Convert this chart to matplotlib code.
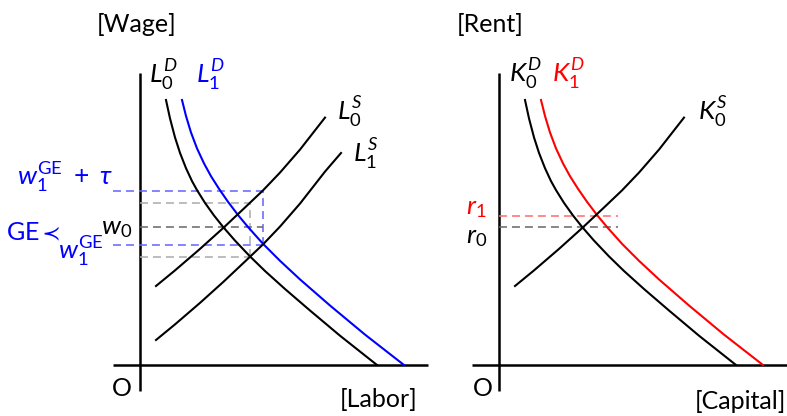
import matplotlib
matplotlib.use("Agg")
import matplotlib.pyplot as plt

plt.rcParams['font.family'] = ['Lato', 'DejaVu Sans']
plt.rcParams['mathtext.fontset'] = 'custom'
plt.rcParams['mathtext.rm'] = 'Lato'
plt.rcParams['mathtext.it'] = 'Lato:italic'
plt.rcParams['mathtext.bf'] = 'Lato:bold'
plt.rcParams['mathtext.sf'] = 'Lato'
plt.rcParams['mathtext.fallback'] = 'stixsans'

# labor market curves
labor_demand0_x = [2.6, 3.0, 3.5, 4.0, 4.6, 5.2, 5.7, 6.5, 7.4, 8.3, 9.5, 11.0, 12.5, 14.5, 17.0, 20.0, 23.7]
labor_demand0_y = [26.5, 24.66, 22.76, 21.21, 19.68, 18.39, 17.49, 16.21, 14.95, 13.82, 12.44,
                   10.86, 9.4, 7.6, 5.45, 2.93, 0.0]
labor_demand1_x = [4.2, 4.6, 5.1, 5.7, 6.4, 7.1, 7.9, 8.8, 9.8, 10.8, 12.3, 14.0, 16.0, 19.0, 22.5, 26.4]
labor_demand1_y = [26.5, 24.9, 23.25, 21.66, 20.16, 18.88, 17.62, 16.32, 15.0, 13.8, 12.12,
                   10.42, 8.56, 5.95, 3.04, 0.0]
labor_supply0_x = [1.6, 3.5, 6.0, 8.3, 10.5, 12.3, 14.0, 16.0, 18.5]
labor_supply0_y = [7.9, 9.46, 11.61, 13.68, 15.75, 17.46, 19.24, 21.54, 24.74]
labor_supply1_x = [1.6, 3.5, 6.0, 8.3, 10.5, 12.3, 14.0, 16.0, 18.5, 20.1]
labor_supply1_y = [2.5, 4.06, 6.21, 8.28, 10.35, 12.06, 13.84, 16.14, 19.34, 21.2]

# equilibrium levels in the labor market
w0 = 13.8
w1_ge = 12.0
w1_ge_tau = 17.4
L_ge = 12.3
w_pe_low = 10.8
w_pe_high = 16.2
L_pe = 11.0

# capital market curves (same shapes as in the labor panel)
capital_demand0_x = labor_demand0_x
capital_demand0_y = labor_demand0_y
capital_demand1_x = labor_demand1_x
capital_demand1_y = labor_demand1_y
capital_supply0_x = labor_supply0_x
capital_supply0_y = labor_supply0_y

r0 = 13.8
r1 = 14.9
r_line_end = 11.9

BLUE = '#0000ff'
RED = '#ff0000'
BLUE_D = '#6262ff'
RED_D = '#ff6a6a'
GRAY_L = '#aaaaaa'
GRAY_D = '#666666'
FS = 18
FM = 19
dash = dict(lw=1.1, dashes=(5.2, 3.3))

fig = plt.figure(figsize=(7.87, 4.16), dpi=100)
axL = fig.add_axes([100/787, 16/416, 330/787, 340/416])
axR = fig.add_axes([460/787, 16/416, 327/787, 340/416])
axL.set_xlim(-4, 29)
axL.set_ylim(-3.5, 30.5)
axR.set_xlim(-3.9, 28.8)
axR.set_ylim(-3.5, 30.5)
for ax in (axL, axR):
    ax.axis('off')
    ax.plot([-2.7, 28.8], [0, 0], color='black', lw=1.8, solid_capstyle='butt')
    ax.plot([0, 0], [-2.6, 29.2], color='black', lw=1.8, solid_capstyle='butt')

# ---- labor panel ----
axL.plot([-2.7, L_ge], [w1_ge_tau, w1_ge_tau], color=BLUE_D, **dash)
axL.plot([-2.7, L_ge], [w1_ge, w1_ge], color=BLUE_D, **dash)
axL.plot([L_ge, L_ge], [w1_ge, w1_ge_tau], color=BLUE_D, **dash)
axL.plot([0, L_pe], [w_pe_high, w_pe_high], color=GRAY_L, **dash)
axL.plot([0, L_pe], [w_pe_low, w_pe_low], color=GRAY_L, **dash)
axL.plot([L_pe, L_pe], [w_pe_low, w_pe_high], color=GRAY_L, **dash)
axL.plot([0, L_ge], [w0, w0], color=GRAY_D, **dash)

axL.plot(labor_demand0_x, labor_demand0_y, color='black', lw=1.5)
axL.plot(labor_demand1_x, labor_demand1_y, color=BLUE, lw=1.5)
axL.plot(labor_supply0_x, labor_supply0_y, color='black', lw=1.5)
axL.plot(labor_supply1_x, labor_supply1_y, color='black', lw=1.5)

axL.text(-0.3, 33.3, '[Wage]', fontsize=FS, ha='center', va='baseline')
axL.text(27.8, -4.2, '[Labor]', fontsize=FS, ha='right', va='baseline')
axL.text(-1.8, -3.1, 'O', fontsize=FS, ha='center', va='baseline')
axL.text(2.3, 28.2, r'$L_0^D$', fontsize=FM, ha='center', va='baseline')
axL.text(7.0, 28.2, r'$L_1^D$', fontsize=FM, ha='center', va='baseline', color=BLUE)
axL.text(21.0, 24.5, r'$L_0^S$', fontsize=FM, ha='center', va='baseline')
axL.text(22.6, 20.3, r'$L_1^S$', fontsize=FM, ha='center', va='baseline')
axL.text(-0.8, 13.1, r'$w_0$', fontsize=FM, ha='right', va='baseline')
axL.text(-2.7, 18.0, r'$w_1^{\mathrm{GE}}\ +\ \tau$', fontsize=FM, ha='right',
         va='baseline', color=BLUE)
axL.text(-8.0, 12.5, r'GE$\prec$', fontsize=FS, ha='right', va='baseline', color=BLUE)
axL.text(-3.6, 10.5, r'$w_1^{\mathrm{GE}}$', fontsize=FM, ha='right', va='baseline',
         color=BLUE)

# ---- capital panel ----
axR.plot([0, r_line_end], [r1, r1], color=RED_D, **dash)
axR.plot([0, r_line_end], [r0, r0], color=GRAY_D, **dash)
axR.plot(capital_demand0_x, capital_demand0_y, color='black', lw=1.5)
axR.plot(capital_demand1_x, capital_demand1_y, color=RED, lw=1.5)
axR.plot(capital_supply0_x, capital_supply0_y, color='black', lw=1.5)

axR.text(-0.9, 33.3, '[Rent]', fontsize=FS, ha='center', va='baseline')
axR.text(28.7, -4.4, '[Capital]', fontsize=FS, ha='right', va='baseline')
axR.text(-1.6, -3.1, 'O', fontsize=FS, ha='center', va='baseline')
axR.text(2.6, 28.3, r'$K_0^D$', fontsize=FM, ha='center', va='baseline')
axR.text(6.9, 28.3, r'$K_1^D$', fontsize=FM, ha='center', va='baseline', color=RED)
axR.text(21.4, 24.5, r'$K_0^S$', fontsize=FM, ha='center', va='baseline')
axR.text(-2.3, 15.1, r'$r_1$', fontsize=FM, ha='center', va='baseline', color=RED)
axR.text(-2.2, 12.2, r'$r_0$', fontsize=FM, ha='center', va='baseline')

fig.savefig('out.png', dpi=100)
